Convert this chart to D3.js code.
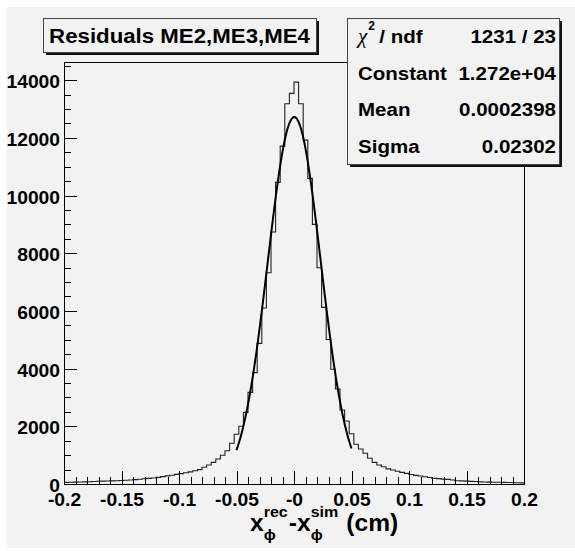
<!DOCTYPE html>
<html lang="en">
<head>
<meta charset="utf-8">
<style>
  body { margin: 0; background: #fff; }
  svg text {
    font-family: "Liberation Sans", Arial, Helvetica, sans-serif;
    font-weight: bold;
    fill: #000;
  }
  .axis path, .axis line { stroke: #000; shape-rendering: crispEdges; }
</style>
</head>
<body>

<svg width="575" height="551"></svg>

<script src="https://cdn.jsdelivr.net/npm/d3@7"></script>
<script>
// 100 bins between -0.2 and 0.2 (bin width 0.004)
var xRange = [-0.2, 0.2]
var counts = [
  55, 60, 65, 70, 75, 80, 85, 95, 100, 105,
  110, 115, 120, 130, 140, 150, 165, 180, 195, 210,
  230, 255, 280, 305, 335, 360, 390, 420, 460, 500,
  580, 660, 750, 866, 994, 1155, 1410, 1722, 2000, 2484,
  3177, 3860, 4876, 6099, 7322, 8733, 10455, 11713, 13179, 13540,
  13931, 13179, 11921, 10594, 9000, 7496, 6123, 5010, 3975, 3292,
  2564, 2183, 1743, 1376, 1213, 1064, 890, 751, 658, 600,
  525, 485, 440, 404, 370, 330, 300, 275, 250, 225,
  196, 185, 170, 160, 140, 115, 110, 100, 92, 85,
  75, 70, 65, 60, 60, 55, 50, 50, 45, 40
]

var xTicks = [-0.2, -0.15, -0.1, -0.05, 0, 0.05, 0.1, 0.15, 0.2]
var xTickLabels = ['-0.2', '-0.15', '-0.1', '-0.05', '-0', '0.05', '0.1', '0.15', '0.2']
var xMinorStep = 0.01
var yTicks = [0, 2000, 4000, 6000, 8000, 10000, 12000, 14000]
var yMinorStep = 500

var title = 'Residuals ME2,ME3,ME4'
var statLabels = ['/ ndf', 'Constant', 'Mean', 'Sigma']
var statValues = ['1231 / 23', '1.272e+04', '0.0002398', '0.02302']

// gaussian fit drawn over [-0.05, 0.05]
var fitConstant = 12720
var fitMean = 0.0002398
var fitSigma = 0.02302
var fitRange = [-0.05, 0.05]

var svg = d3.select('svg')
var bg = '#f2f2f2'
var sx = 1.07   // the picture's text is a bit wider than Arial

function stretch (sel, k) {
  sel.attr('transform', function () {
    var x = +this.getAttribute('x') || 0
    return 'translate(' + x + ',0) scale(' + k + ',1) translate(' + (-x) + ',0)'
  })
}

// canvas
svg.append('rect').attr('x', 7).attr('y', 7).attr('width', 568).attr('height', 541).attr('fill', bg)

var frame = {left: 64, right: 524, top: 62, bottom: 484}
var nBins = counts.length
var binW = (xRange[1] - xRange[0]) / nBins
var yMax = d3.max(counts) * 1.05

var x = d3.scaleLinear().domain(xRange).range([frame.left, frame.right])
var y = d3.scaleLinear().domain([0, yMax]).range([frame.bottom, frame.top])

svg.append('rect')
  .attr('x', frame.left).attr('y', frame.top)
  .attr('width', frame.right - frame.left).attr('height', frame.bottom - frame.top)
  .attr('fill', bg).attr('stroke', '#000').attr('shape-rendering', 'crispEdges')

// histogram outline
var pts = []
counts.forEach(function (c, i) {
  pts.push([x(xRange[0] + i * binW), y(c)])
  pts.push([x(xRange[0] + (i + 1) * binW), y(c)])
})
svg.append('path')
  .attr('d', d3.line()(pts))
  .attr('fill', 'none').attr('stroke', '#222').attr('stroke-width', 1.1)

// fit
var fitPts = d3.range(0, 201).map(function (k) {
  var v = fitRange[0] + (fitRange[1] - fitRange[0]) * k / 200
  var f = fitConstant * Math.exp(-0.5 * Math.pow((v - fitMean) / fitSigma, 2))
  return [x(v), y(f)]
})
svg.append('path')
  .attr('d', d3.line().curve(d3.curveBasis)(fitPts))
  .attr('fill', 'none').attr('stroke', '#000').attr('stroke-width', 2)

// axes
var xMinor = d3.range(xRange[0], xRange[1] + 1e-9, xMinorStep)
var yMinor = d3.range(0, yMax, yMinorStep)

var gx = svg.append('g').attr('class', 'axis')
  .attr('transform', 'translate(0,' + frame.bottom + ')')
gx.append('g').call(d3.axisBottom(x).tickValues(xMinor).tickFormat('')
  .tickSizeInner(-7).tickSizeOuter(0))
gx.append('g').call(d3.axisBottom(x).tickValues(xTicks)
  .tickFormat(function (d, i) { return xTickLabels[i] })
  .tickSizeInner(-13).tickSizeOuter(0).tickPadding(9))
gx.selectAll('text').attr('font-size', 18).attr('font-family', null).call(stretch, sx)

var gy = svg.append('g').attr('class', 'axis')
  .attr('transform', 'translate(' + frame.left + ',0)')
gy.append('g').call(d3.axisLeft(y).tickValues(yMinor).tickFormat('')
  .tickSizeInner(-7).tickSizeOuter(0))
gy.append('g').call(d3.axisLeft(y).tickValues(yTicks)
  .tickFormat(d3.format('d'))
  .tickSizeInner(-13).tickSizeOuter(0).tickPadding(4))
gy.selectAll('text').attr('font-size', 18).attr('font-family', null)
  .attr('dy', '0.42em').call(stretch, sx)
svg.selectAll('.axis .domain').attr('stroke', '#000')

// axis title: x_phi^rec - x_phi^sim (cm)
var xt = svg.append('g')
var cx = 250
var base = 531
function put (txt, size, yy) {
  var t = xt.append('text').attr('x', cx).attr('y', yy).attr('font-size', size).text(txt)
  var w = t.node().getComputedTextLength() * sx
  stretch(t, sx)
  return w
}
cx += put('x', 23, base)
var w1 = put('rec', 15, base - 14)
put('\u03d5', 15, base + 9)
cx += w1 + 1
cx += put('-x', 23, base)
var w2 = put('sim', 15, base - 14)
put('\u03d5', 15, base + 9)
cx += w2 + 8
put('(cm)', 23, base)

// title box
function pave (x0, y0, w, h) {
  svg.append('rect').attr('x', x0 + 3).attr('y', y0 + 3).attr('width', w).attr('height', h)
    .attr('fill', '#111')
  svg.append('rect').attr('x', x0 + 0.5).attr('y', y0 + 0.5).attr('width', w).attr('height', h)
    .attr('fill', bg).attr('stroke', '#444')
}
pave(43, 18, 273, 34)
svg.append('text')
  .attr('x', 43 + 273 / 2).attr('y', 35).attr('dy', '0.36em')
  .attr('text-anchor', 'middle').attr('font-size', 21)
  .text(title).call(stretch, 1.06)

// stats box
var sb = {x: 347, y: 18, w: 212, h: 146}
pave(sb.x, sb.y, sb.w, sb.h)
var rowH = sb.h / statLabels.length
statLabels.forEach(function (lab, i) {
  var cy = sb.y + rowH * (i + 0.5)
  var lx = sb.x + 11
  if (i === 0) {
    var chi = svg.append('text').attr('x', lx).attr('y', cy).attr('dy', '0.3em')
      .attr('font-size', 21)
      .style('font-family', '"Liberation Serif", "DejaVu Serif", serif')
      .style('font-style', 'italic').style('font-weight', 'normal')
      .text('\u03c7')
    var cw = chi.node().getComputedTextLength()
    svg.append('text').attr('x', lx + cw + 1).attr('y', cy - 6).attr('font-size', 12).text('2')
    svg.append('text').attr('x', lx + cw + 12).attr('y', cy).attr('dy', '0.36em')
      .attr('font-size', 19).text(lab).call(stretch, 1.08)
  } else {
    svg.append('text').attr('x', lx).attr('y', cy).attr('dy', '0.36em')
      .attr('font-size', 19).text(lab).call(stretch, 1.08)
  }
  svg.append('text').attr('x', sb.x + sb.w - 3).attr('y', cy).attr('dy', '0.36em')
    .attr('text-anchor', 'end').attr('font-size', 19).text(statValues[i]).call(stretch, 1.08)
})
</script>

</body>
</html>
